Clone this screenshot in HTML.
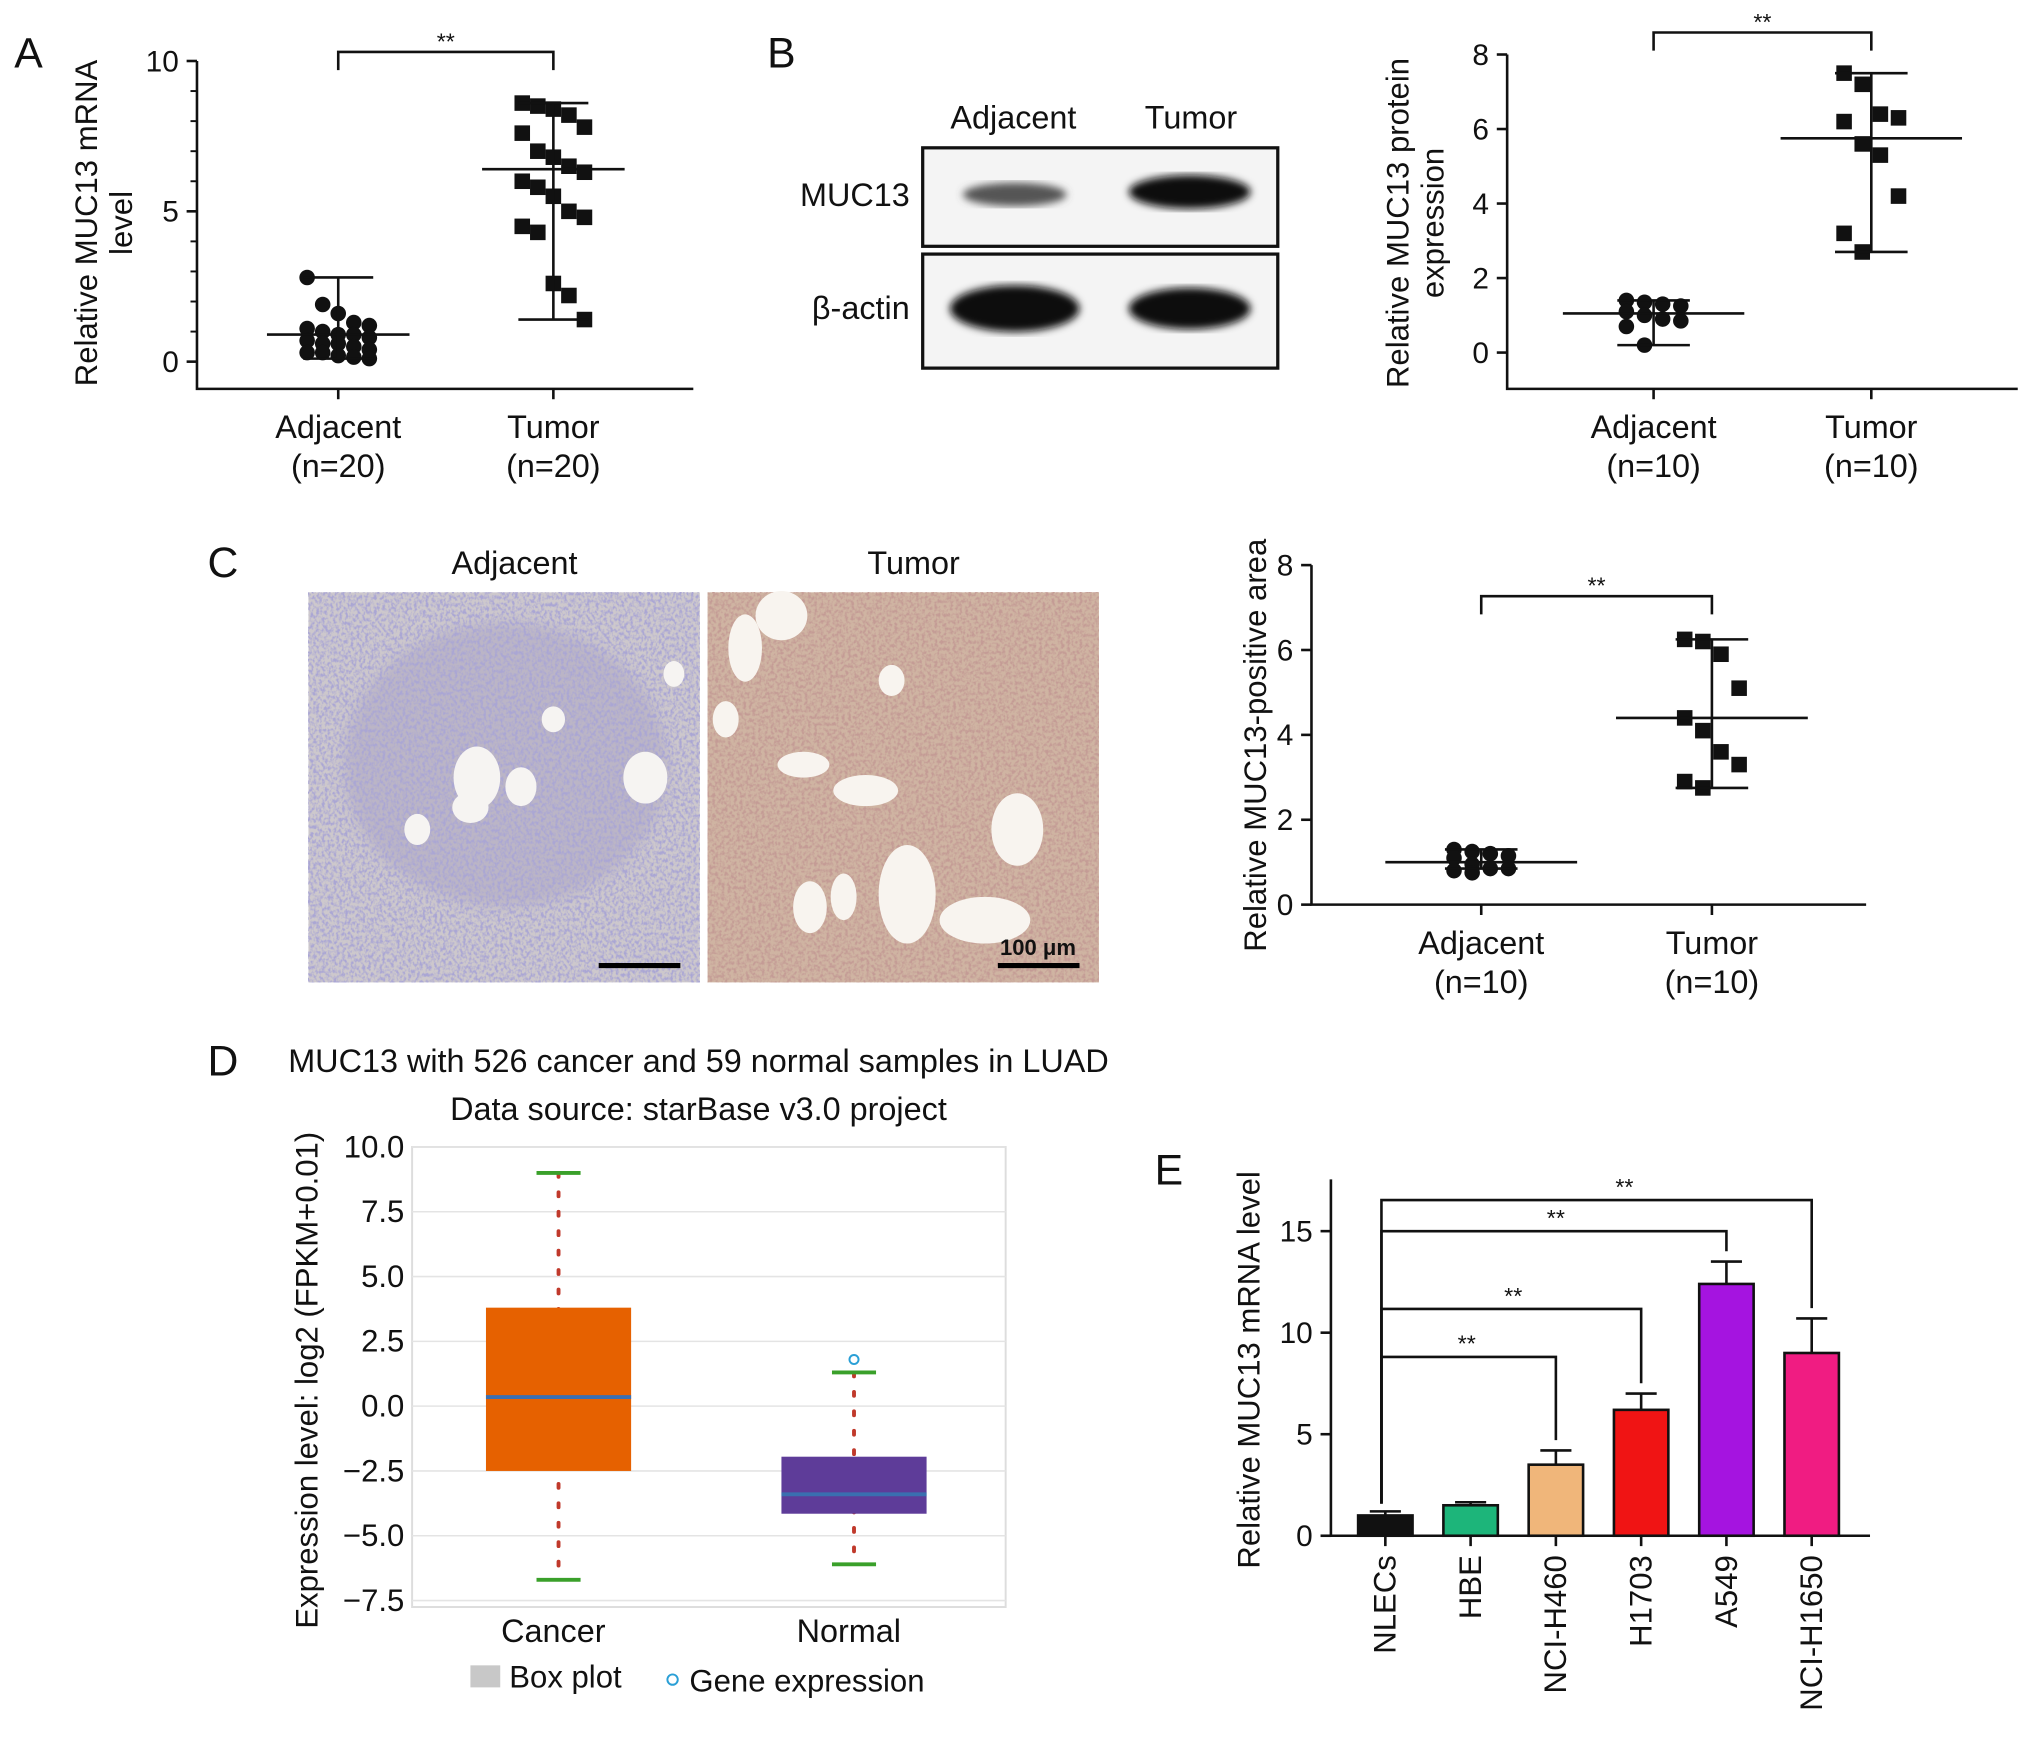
<!DOCTYPE html>
<html><head><meta charset="utf-8"><style>
html,body{margin:0;padding:0;background:#fff;}
svg{display:block;font-family:"Liberation Sans",Arial,sans-serif;}
</style></head><body>
<svg id="fig" width="2032" height="1738" viewBox="0 0 1568 1341" xmlns="http://www.w3.org/2000/svg">
<defs>
<filter id="texA" x="0" y="0" width="100%" height="100%">
<feTurbulence type="fractalNoise" baseFrequency="0.45 0.35" numOctaves="2" seed="3"/>
<feColorMatrix type="matrix" values="0 0 0 0 0.40  0 0 0 0 0.38  0 0 0 0 0.66  0 0 0 3.2 -1.3"/>
</filter>
<filter id="texB" x="0" y="0" width="100%" height="100%">
<feTurbulence type="fractalNoise" baseFrequency="0.42 0.38" numOctaves="2" seed="7"/>
<feColorMatrix type="matrix" values="0 0 0 0 0.55  0 0 0 0 0.33  0 0 0 0 0.30  0 0 0 3.2 -1.3"/>
</filter>
<filter id="blur4"><feGaussianBlur stdDeviation="5"/></filter>
<filter id="blur2"><feGaussianBlur stdDeviation="3"/></filter>
</defs>
<g id="root"></g>
</svg>
<script>
// ---------- data ----------
const aCats = ["Adjacent", "Tumor"];
const aAdjacent = [2.8,1.9,1.6,1.3,1.2,1.1,1.0,0.9,0.9,0.8,0.7,0.6,0.6,0.5,0.4,0.3,0.3,0.2,0.15,0.1];
const aTumor = [8.6,8.5,8.4,8.2,7.8,7.6,7.0,6.8,6.5,6.3,6.0,5.8,5.5,5.0,4.8,4.5,4.3,2.6,2.2,1.4];
const aStats = [[0.9,0.1,2.8],[6.4,1.4,8.6]];
const aTicks = [0,5,10];
const bAdjacent = [1.4,1.35,1.3,1.25,1.1,1.0,0.9,0.85,0.7,0.2];
const bTumor = [7.5,7.2,6.4,6.3,6.2,5.6,5.3,4.2,3.2,2.7];
const bStats = [[1.05,0.2,1.4],[5.75,2.7,7.5]];
const bTicks = [0,2,4,6,8];
const cAdjacent = [1.3,1.25,1.2,1.15,1.1,0.95,0.85,0.85,0.8,0.75];
const cTumor = [6.25,6.2,5.9,5.1,4.4,4.1,3.6,3.3,2.9,2.75];
const cStats = [[1.0,0.85,1.3],[4.4,2.75,6.25]];
const cTicks = [0,2,4,6,8];
const dCats = ["Cancer","Normal"];
const dQ1 = [-2.5,-4.15];
const dQ3 = [3.8,-1.95];
const dMed = [0.35,-3.4];
const dLo = [-6.7,-6.1];
const dHi = [9.0,1.3];
const dOutlier = [null,1.8];
const dTicks = [10.0,7.5,5.0,2.5,0.0,-2.5,-5.0,-7.5];
const eCats = ["NLECs","HBE","NCI-H460","H1703","A549","NCI-H1650"];
const eVals = [1.0,1.5,3.5,6.2,12.4,9.0];
const eErr = [0.2,0.15,0.7,0.8,1.1,1.7];
const eColors = ["#111111","#1db57a","#f0b67a","#f01414","#a514e0","#f01c82"];
const eTicks = [0,5,10,15];

const NS="http://www.w3.org/2000/svg";
const root=document.getElementById('root');
function mk(tag,attrs,parent){const e=document.createElementNS(NS,tag);for(const k in attrs)e.setAttribute(k,attrs[k]);(parent||root).appendChild(e);return e;}
function txt(s,x,y,size,anchor,parent,extra){const e=mk('text',Object.assign({x:x,y:y,'font-size':size,'text-anchor':anchor||'middle',fill:'#111'},extra||{}),parent);e.textContent=s;return e;}

let el;
[["A",22,52],["B",603,52],["C",172,445],["D",172,830],["E",902,914]].forEach(p=>{
 el=txt(p[0],p[1],p[2],33,'middle');
 
 
});

function scatterPanel(id,cfg){
 const g=mk('g',{});
 
 
 const y=v=>cfg.y0-(v-cfg.vmin)*cfg.ppu;
 const ax=mk('path',{d:`M${cfg.ax} ${cfg.ytop} V${cfg.ybot} H${cfg.xend}`,stroke:'#111','stroke-width':2,fill:'none'},g);
 
 
 cfg.ticks.forEach((t,i)=>{
  const tk=mk('line',{x1:cfg.ax-8,x2:cfg.ax,y1:y(t),y2:y(t),stroke:'#111','stroke-width':2},g);
  
  
  const tl=txt(String(t),cfg.ax-14,y(t)+8,23,'end',g);
  
  
  if(cfg.minor && i<cfg.ticks.length-1){
   for(let m=1;m<5;m++){const mv=t+(cfg.ticks[i+1]-t)*m/5;
    const mt=mk('line',{x1:cfg.ax-5,x2:cfg.ax,y1:y(mv),y2:y(mv),stroke:'#111','stroke-width':1.5},g);
    
    }
  }
 });
 const lab=mk('text',{transform:`translate(${cfg.labx},${cfg.laby}) rotate(-90)`,'font-size':24,'text-anchor':'middle',fill:'#111'},g);
 cfg.label.forEach((l,i)=>{const ts=mk('tspan',{x:0,dy:i?27:0},lab);ts.textContent=l;});
 
 
 const series=[cfg.adj,cfg.tum];
 aCats.forEach((c,ci)=>{
  const cx=cfg.xs[ci];
  const tk=mk('line',{x1:cx,x2:cx,y1:cfg.ybot,y2:cfg.ybot+8,stroke:'#111','stroke-width':2},g);
  
  
  const l1=txt(c,cx,cfg.ybot+38,25,'middle',g);
  
  
  const l2=txt('(n='+series[ci].length+')',cx,cfg.ybot+68,25,'middle',g);
  
  
  const vals=series[ci];
  vals.forEach((v,i)=>{
   const n=vals.length;const cols=n>10?5:4;
   const off=((i%cols)-(cols-1)/2)*cfg.jit;
   let m;
   if(ci===0){m=mk('circle',{cx:cx+off,cy:y(v),r:6,fill:'#111'},g);}
   else{m=mk('rect',{x:cx+off-6,y:y(v)-6,width:12,height:12,fill:'#111'},g);}
   
   
  });
  const st=cfg.stats[ci];
  const eb=mk('path',{d:`M${cx-cfg.mw} ${y(st[0])} H${cx+cfg.mw} M${cx} ${y(st[1])} V${y(st[2])} M${cx-cfg.cw} ${y(st[1])} H${cx+cfg.cw} M${cx-cfg.cw} ${y(st[2])} H${cx+cfg.cw}`,stroke:'#111','stroke-width':2,fill:'none'},g);
  
  
 });
 const br=mk('path',{d:`M${cfg.xs[0]} ${cfg.bry+14} V${cfg.bry} H${cfg.xs[1]} V${cfg.bry+14}`,stroke:'#111','stroke-width':2,fill:'none'},g);
 
 
 const s=txt('**',(cfg.xs[0]+cfg.xs[1])/2,cfg.bry-2,18,'middle',g);
 
 
}
scatterPanel('panel-a',{ax:152,ytop:47,ybot:300,xend:535,y0:279,vmin:0,ppu:23.2,ticks:aTicks,minor:true,xs:[261,427],adj:aAdjacent,tum:aTumor,stats:aStats,jit:12,mw:55,cw:27,bry:40,label:['Relative MUC13 mRNA','level'],labx:75,laby:172});
scatterPanel('panel-b',{ax:1163,ytop:42,ybot:300,xend:1557,y0:272,vmin:0,ppu:28.75,ticks:bTicks,minor:false,xs:[1276,1444],adj:bAdjacent,tum:bTumor,stats:bStats,jit:14,mw:70,cw:28,bry:25,label:['Relative MUC13 protein','expression'],labx:1087,laby:172});
scatterPanel('panel-c',{ax:1012,ytop:436,ybot:698,xend:1440,y0:698,vmin:0,ppu:32.75,ticks:cTicks,minor:false,xs:[1143,1321],adj:cAdjacent,tum:cTumor,stats:cStats,jit:14,mw:74,cw:28,bry:460,label:['Relative MUC13-positive area'],labx:977,laby:575});

(function(){
 const g=mk('g',{});
 
 
 [["Adjacent",782,99],["Tumor",919,99]].forEach(t=>{el=txt(t[0],t[1],t[2],25,'middle',g);
  
  });
 el=txt('MUC13',702,159,25,'end',g);
 
 
 el=txt('β-actin',702,246,25,'end',g);
 
 
 const b1=mk('rect',{x:712,y:114,width:274,height:76,fill:'#f4f4f4',stroke:'#111','stroke-width':2.5},g);
 
 
 const b2=mk('rect',{x:712,y:196,width:274,height:88,fill:'#f4f4f4',stroke:'#111','stroke-width':2.5},g);
 
 
 [[783,150,40,9,'#555'],[918,148,47,13,'#111'],[783,238,50,18,'#080808'],[918,238,47,16,'#080808']].forEach((b,i)=>{
  el=mk('ellipse',{cx:b[0],cy:b[1],rx:b[2],ry:b[3],fill:b[4],filter:'url(#blur2)'},g);
  
  
 });
})();

(function(){
 const g=mk('g',{});
 
 
 el=txt('Adjacent',397,443,25,'middle',g);
 
 
 el=txt('Tumor',705,443,25,'middle',g);
 
 
 const i1=mk('g',{},g);
 
 
 mk('rect',{x:238,y:457,width:302,height:301,fill:'#cdc8cc'},i1);
 mk('ellipse',{cx:390,cy:590,rx:125,ry:110,fill:'#9a93bb',opacity:0.35,filter:'url(#blur4)'},i1);
 mk('rect',{x:238,y:457,width:302,height:301,filter:'url(#texA)'},i1);
 [[368,600,18,24],[402,607,12,15],[363,623,14,12],[498,600,17,20],[427,555,9,10],[520,520,8,10],[322,640,10,12]].forEach(b=>mk('ellipse',{cx:b[0],cy:b[1],rx:b[2],ry:b[3],fill:'#f6f4f2'},i1));
 const i2=mk('g',{},g);
 
 
 mk('rect',{x:546,y:457,width:302,height:301,fill:'#cfb4a2'},i2);
 mk('rect',{x:546,y:457,width:302,height:301,filter:'url(#texB)'},i2);
 [[603,475,20,19],[575,500,13,26],[700,690,22,38],[625,700,13,20],[651,692,10,18],[620,590,20,10],[668,610,25,12],[785,640,20,28],[760,710,35,18],[688,525,10,12],[560,555,10,14]].forEach(b=>mk('ellipse',{cx:b[0],cy:b[1],rx:b[2],ry:b[3],fill:'#f8f4ef'},i2));
 el=mk('line',{x1:462,x2:525,y1:745,y2:745,stroke:'#000','stroke-width':4},g);
 
 
 el=mk('line',{x1:770,x2:833,y1:745,y2:745,stroke:'#000','stroke-width':4},g);
 
 
 el=txt('100 μm',801,737,17,'middle',g,{'font-weight':'bold'});
 
 
})();

(function(){
 const g=mk('g',{});
 
 
 const y=v=>1085-v*20;
 const xs=[431,659];
 el=txt('MUC13 with 526 cancer and 59 normal samples in LUAD',539,827,25,'middle',g);
 
 
 el=txt('Data source: starBase v3.0 project',539,864,25,'middle',g);
 
 
 el=mk('rect',{x:318,y:885,width:458,height:355,fill:'#fff',stroke:'#ddd','stroke-width':1.5},g);
 
 
 dTicks.forEach(t=>{
  el=mk('line',{x1:318,x2:776,y1:y(t),y2:y(t),stroke:'#e4e4e4','stroke-width':1.2},g);
  
  
  el=txt(t.toFixed(1).replace('-','−'),312,y(t)+8,24,'end',g);
  
  
 });
 const cols=['#e66100','#5e3c99'];
 dCats.forEach((c,i)=>{
  const cx=xs[i];
  el=mk('line',{x1:cx,x2:cx,y1:y(dHi[i]),y2:y(dLo[i]),stroke:'#c0392b','stroke-width':3,'stroke-dasharray':'3 12','stroke-linecap':'round'},g);
  
  
  el=mk('rect',{x:cx-56,y:y(dQ3[i]),width:112,height:y(dQ1[i])-y(dQ3[i]),fill:cols[i]},g);
  
  
  el=mk('line',{x1:cx-56,x2:cx+56,y1:y(dMed[i]),y2:y(dMed[i]),stroke:'#3a6fb0','stroke-width':3},g);
  
  
  [dHi[i],dLo[i]].forEach(v=>{
   el=mk('line',{x1:cx-17,x2:cx+17,y1:y(v),y2:y(v),stroke:'#3aa02a','stroke-width':3},g);
   
   
  });
  if(dOutlier[i]!==null){
   el=mk('circle',{cx:cx,cy:y(dOutlier[i]),r:3.5,fill:'none',stroke:'#2a9fd6','stroke-width':1.5},g);
   
   
  }
  el=txt(c,cx-4,1267,25,'middle',g);
  
  
 });
 el=mk('text',{transform:'translate(245,1065) rotate(-90)','font-size':24,'text-anchor':'middle',fill:'#111'},g);
 el.textContent='Expression level: log2 (FPKM+0.01)';
 
 
 el=mk('rect',{x:363,y:1285,width:23,height:17,fill:'#c8c8c8'},g);
 
 
 el=txt('Box plot',393,1302,24,'start',g);
 
 
 el=mk('circle',{cx:519,cy:1296,r:4,fill:'none',stroke:'#2a9fd6','stroke-width':1.5},g);
 
 
 el=txt('Gene expression',532,1305,24,'start',g);
 
 
})();

(function(){
 const g=mk('g',{});
 
 
 const y=v=>1185-v*15.67;
 const x=i=>1069+i*65.8;
 el=mk('path',{d:'M1027 910 V1185 H1443',stroke:'#111','stroke-width':2,fill:'none'},g);
 
 
 eTicks.forEach(t=>{
  el=mk('line',{x1:1019,x2:1027,y1:y(t),y2:y(t),stroke:'#111','stroke-width':2},g);
  
  
  el=txt(String(t),1013,y(t)+8,23,'end',g);
  
  
 });
 el=mk('text',{transform:'translate(972,1057) rotate(-90)','font-size':24,'text-anchor':'middle',fill:'#111'},g);
 el.textContent='Relative MUC13 mRNA level';
 
 
 eCats.forEach((c,i)=>{
  const cx=x(i);
  el=mk('line',{x1:cx,x2:cx,y1:y(eVals[i]+eErr[i]),y2:y(eVals[i]),stroke:'#111','stroke-width':2},g);
  
  
  el=mk('line',{x1:cx-12,x2:cx+12,y1:y(eVals[i]+eErr[i]),y2:y(eVals[i]+eErr[i]),stroke:'#111','stroke-width':2},g);
  
  
  el=mk('rect',{x:cx-21,y:y(eVals[i]),width:42,height:y(0)-y(eVals[i]),fill:eColors[i],stroke:'#111','stroke-width':2},g);
  
  
  el=mk('line',{x1:cx,x2:cx,y1:1185,y2:1193,stroke:'#111','stroke-width':2},g);
  
  
  el=mk('text',{transform:`translate(${cx+8},1200) rotate(-90)`,'font-size':24,'text-anchor':'end',fill:'#111'},g);
  el.textContent=c;
  
  
 });
 const targets=[2,3,4,5];
 const levels=[1047,1010,950,926];
 targets.forEach((t,k)=>{
  const top=levels[k];
  const end=y(eVals[t]+eErr[t])-8;
  el=mk('path',{d:`M${x(0)-3} ${y(eVals[0]+eErr[0])-6} V${top} H${x(t)} V${end}`,stroke:'#111','stroke-width':2,fill:'none'},g);
  
  
  el=txt('**',(x(0)+x(t))/2-(t===2?3:(t===5?-20:0)),top-4,18,'middle',g);
  
  
 });
})();
</script>
</body></html>
